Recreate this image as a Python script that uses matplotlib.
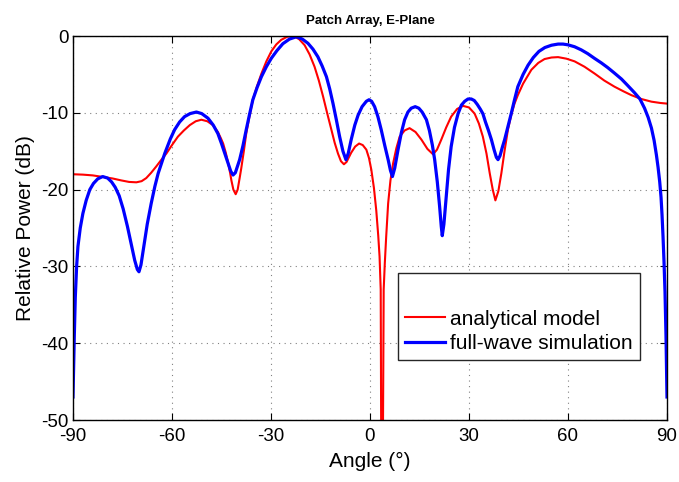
import matplotlib
matplotlib.use("Agg")
import matplotlib.pyplot as plt

plt.rcParams["font.family"] = ["Liberation Sans", "DejaVu Sans"]
plt.rcParams["axes.unicode_minus"] = False

# analytical model
angle_model = [-90, -87, -84, -81, -78, -75.4, -73, -70.8, -69.2, -67.8,
               -66.3, -64.8, -63.2, -61.7, -60, -58.2, -56.4, -54.6, -52.8, -51.1,
               -49.3, -47.6, -46.1, -45.2, -44.5, -43.7, -43, -42.4, -42, -41.4,
               -40.7, -40.1, -39.5, -39, -38.2, -37.5, -36.5, -35.5, -34.2, -32.9,
               -31.4, -29.9, -28.4, -26.9, -25.1, -23.3, -21.5, -19.8, -18.3, -16.8,
               -15.5, -14.2, -13, -11.7, -10.7, -9.7, -8.8, -7.9, -7.1, -6.4,
               -5.7, -4.5, -3.3, -2.2, -1.1, -0.3, 0.4, 1.2, 1.9, 2.5,
               2.9, 3.25, 3.6, 4.15, 4.5, 4.9, 5.5, 6.2, 7.0, 8.0,
               9.0, 10.5, 12.0, 13.8, 15.6, 17.4, 19.1, 20.3, 21.6, 23.1,
               24.6, 26.4, 28.2, 30, 31.7, 33, 34.2, 35.3, 36.3, 37.2,
               38.0, 38.9, 39.8, 40.8, 41.8, 42.8, 43.8, 44.8, 46.4, 48.9,
               51, 52.9, 55, 57.0, 59.5, 62.0, 65, 68.1, 71, 74.1,
               76.8, 79.2, 82.2, 85.3, 88, 90]
power_model = [-18.0, -18.05, -18.15, -18.35, -18.55, -18.8, -19.0, -19.05, -18.9, -18.5,
               -17.8, -17.0, -16.1, -15.3, -14.2, -13.1, -12.3, -11.6, -11.1, -10.9,
               -11.1, -11.6, -12.5, -13.3, -14.0, -15.2, -16.5, -17.8, -18.8, -20.0,
               -20.6, -20.0, -18.5, -17.2, -14.9, -12.7, -10.4, -8.3, -6.5, -4.9,
               -3.3, -2.0, -1.1, -0.5, -0.1, 0.0, -0.4, -1.2, -2.4, -4.0,
               -5.8, -7.9, -10.0, -12.2, -13.9, -15.3, -16.3, -16.7, -16.4, -15.8,
               -15.2, -14.4, -14.0, -14.2, -14.8, -15.9, -17.4, -19.8, -22.7, -26.0,
               -28.7, -33.0, -80.0, -33.0, -29.5, -26.2, -21.8, -18.8, -16.6, -14.6,
               -13.1, -12.3, -12.0, -12.5, -13.5, -14.7, -15.4, -14.8, -13.5, -11.9,
               -10.5, -9.5, -9.1, -9.3, -10.1, -11.4, -13.1, -15.3, -17.9, -20.0,
               -21.4, -20.2, -17.9, -14.9, -12.2, -10.3, -8.8, -7.7, -6.2, -4.4,
               -3.5, -3.0, -2.8, -2.75, -2.95, -3.3, -4.0, -4.9, -5.8, -6.6,
               -7.2, -7.7, -8.2, -8.55, -8.72, -8.8]

# full-wave simulation
angle_sim = [-90, -89.8, -89.6, -89.3, -88.9, -88.5, -87.8, -87, -86, -84.9,
             -83.8, -82.5, -81, -79.5, -78.3, -77.2, -76, -74.8, -73.5, -72.3,
             -71.3, -70.5, -70.0, -69.4, -68.5, -67.5, -66.3, -65.2, -64.2, -62.2,
             -60.5, -59.2, -57.7, -56.2, -54.5, -52.6, -51, -49.1, -47.5, -46.1,
             -45, -44, -43, -42.2, -41.5, -40.8, -40.2, -39.5, -38.5, -37.5,
             -36.5, -35.5, -34.2, -32.9, -31.4, -29.9, -28.2, -26.4, -24.4, -22.3,
             -20.5, -18.8, -17.3, -15.8, -14.5, -13.2, -12.2, -11.2, -10.2, -9.2,
             -8.2, -7.3, -6.6, -5.7, -4.6, -3.6, -2.4, -1.1, -0.3, 0.5,
             1.4, 2.4, 3.4, 4.5, 5.5, 6.2, 6.8, 7.5, 8.5, 9.5,
             10.5, 11.5, 12.5, 13.7, 14.8, 15.8, 17.1, 18.0, 18.9, 19.6,
             20.4, 21.1, 21.6, 21.9, 22.4, 23.1, 23.8, 24.6, 25.6, 26.7,
             27.7, 28.7, 29.7, 30.7, 31.6, 32.5, 33.4, 34.2, 35.0, 35.9,
             36.8, 37.6, 38.3, 38.8, 39.4, 40.1, 40.8, 41.8, 42.8, 43.8,
             44.8, 46.4, 47.9, 49.5, 51.2, 53, 55, 57, 58.5, 60,
             62, 64, 66, 68, 70.1, 72, 74, 76.2, 78, 80.2,
             81.8, 83.2, 84.3, 85.3, 86.1, 86.8, 87.3, 87.8, 88.2, 88.5,
             88.8, 89.1, 89.4, 89.7, 90]
power_sim = [-47.0, -43.0, -39.0, -34.0, -30.0, -27.4, -25.0, -23.1, -21.4, -20.0,
             -19.2, -18.6, -18.3, -18.5, -19.0, -19.7, -20.8, -22.5, -24.8, -27.2,
             -29.2, -30.4, -30.7, -29.8, -27.3, -24.5, -21.8, -19.6, -17.9, -15.3,
             -13.4, -12.2, -11.2, -10.5, -10.1, -9.9, -10.1, -10.7, -11.6, -12.7,
             -14.0, -15.3, -16.6, -17.6, -18.1, -17.8, -17.0, -16.1, -14.3, -12.2,
             -10.2, -8.3, -6.7, -5.3, -4.0, -2.9, -1.9, -1.0, -0.4, -0.1,
             -0.4, -0.95, -1.7, -2.7, -3.9, -5.3, -6.9, -8.8, -10.9, -13.1,
             -15.0, -16.1, -15.3, -13.5, -11.6, -10.3, -9.2, -8.5, -8.3, -8.5,
             -9.2, -10.5, -12.2, -14.3, -16.1, -17.5, -18.3, -17.2, -14.8, -12.6,
             -10.9, -9.9, -9.4, -9.2, -9.4, -9.9, -10.9, -12.3, -14.2, -16.1,
             -19.0, -22.2, -24.8, -26.0, -24.5, -20.9, -17.4, -14.4, -11.9, -10.1,
             -9.0, -8.5, -8.2, -8.2, -8.4, -8.9, -9.5, -10.1, -11.2, -12.3,
             -13.5, -14.8, -15.8, -16.1, -15.6, -14.5, -13.5, -11.8, -10.1, -8.3,
             -6.6, -5.0, -3.8, -2.8, -2.0, -1.5, -1.2, -1.05, -1.05, -1.15,
             -1.4, -1.8, -2.3, -2.9, -3.5, -4.1, -4.8, -5.6, -6.4, -7.4,
             -8.2, -9.4, -10.6, -12.0, -13.6, -15.5, -17.1, -19.0, -21.0, -23.3,
             -26.1, -29.4, -33.3, -39.0, -47.0]

xticks = [-90, -60, -30, 0, 30, 60, 90]
yticks = [0, -10, -20, -30, -40, -50]

fig = plt.figure(figsize=(6.79, 4.82), dpi=100)
ax = fig.add_axes([0.1075, 0.1286, 0.8748, 0.7967])

ax.plot(angle_model, power_model, color="#ff0000", lw=1.5, label="analytical model")
ax.plot(angle_sim, power_sim, color="#0000ff", lw=2.3, label="full-wave simulation")

ax.set_xlim(-90, 90)
ax.set_ylim(-50, 0)
ax.set_xticks(xticks)
ax.set_yticks(yticks)
ax.tick_params(direction="in", length=5, width=0.8, top=True, right=True,
               labelsize=13.5)
ax.tick_params(axis="x", pad=6)
ax.tick_params(axis="y", pad=3)
ax.grid(True, linestyle=(0, (1, 4)), color="#808080", linewidth=0.8)
for s in ax.spines.values():
    s.set_linewidth(1.0)

ax.set_xlabel("Angle (°)", fontsize=15, labelpad=5)
ax.set_ylabel("Relative Power (dB)", fontsize=15, labelpad=5)
ax.set_title("Patch Array, E-Plane", fontsize=9.5, fontweight="bold", pad=9)

leg = ax.legend(loc="lower left", bbox_to_anchor=(0.547, 0.156), fontsize=15,
                title=" ", title_fontsize=18, handlelength=1.9, handletextpad=0.25,
                borderpad=0.35, labelspacing=0.25, borderaxespad=0, fancybox=False,
                framealpha=1)
leg.get_frame().set_edgecolor("#262626")
leg.get_frame().set_linewidth(1.0)

fig.savefig("out.png", dpi=100)
